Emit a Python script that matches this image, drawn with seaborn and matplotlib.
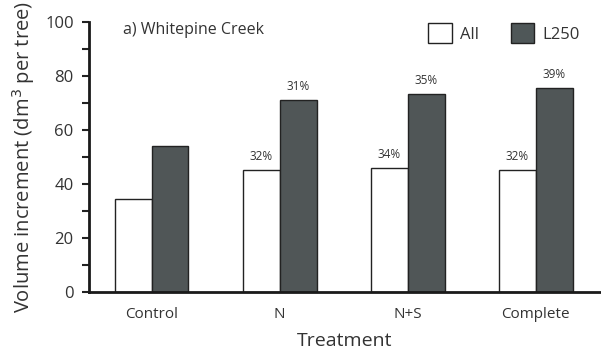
import matplotlib
matplotlib.use("Agg")
import matplotlib.pyplot as plt
import seaborn as sns
import pandas as pd
from matplotlib.patches import Patch

treatments = ["Control", "N", "N+S", "Complete"]
all_trees = [34.5, 45.2, 45.9, 45.2]
l250_trees = [54.0, 71.1, 73.3, 75.6]
all_pct = ["", "32%", "34%", "32%"]
l250_pct = ["", "31%", "35%", "39%"]
groups = ["All", "L250"]

df = pd.DataFrame({
    "Treatment": treatments * 2,
    "Volume": all_trees + l250_trees,
    "Group": [groups[0]] * 4 + [groups[1]] * 4,
})

sns.set_style("ticks")
plt.rcParams["font.family"] = ["Open Sans", "DejaVu Sans"]

colors = {"All": "white", "L250": "#4f5758"}

fig = plt.figure(figsize=(6.01, 3.59), dpi=100)
ax = fig.add_axes([0.148, 0.187, 0.850, 0.752])

sns.barplot(data=df, x="Treatment", y="Volume", hue="Group",
            palette=colors, edgecolor="#222222", linewidth=1.0,
            width=0.575, gap=0, legend=False, ax=ax)

for cont, labs in zip(ax.containers, [all_pct, l250_pct]):
    ax.bar_label(cont, labels=labs, padding=5, fontsize=8.5, color="#333333")

ax.set_ylim(0, 100)
ax.set_xlim(-0.49, 3.5)
ax.set_yticks(range(0, 101, 20))
ax.set_yticks(range(10, 100, 20), minor=True)
ax.tick_params(axis="y", which="both", length=5, width=1.5, direction="out",
               labelsize=12, colors="#222222", pad=6)
ax.tick_params(axis="x", length=0, labelsize=11, pad=11, colors="#222222")
ax.tick_params(axis="y", labelcolor="#333333")
ax.tick_params(axis="x", labelcolor="#333333")

sns.despine(ax=ax)
for s in ["left", "bottom"]:
    ax.spines[s].set_linewidth(2)
    ax.spines[s].set_color("#1a1a1a")

ax.set_xlabel("Treatment", fontsize=14, color="#333333", labelpad=7)
ax.set_ylabel("Volume increment (dm$^3$ per tree)", fontsize=14.5,
              color="#333333", labelpad=6)

ax.text(0.066, 1.0, "a) Whitepine Creek", transform=ax.transAxes,
        fontsize=11.5, color="#333333", va="top", ha="left")

handles = [Patch(facecolor=colors[g], edgecolor="#222222", linewidth=1.0, label=g)
           for g in groups]
ax.legend(handles=handles, ncol=2, frameon=False, loc="upper right",
          bbox_to_anchor=(0.99, 1.05), fontsize=12, handlelength=1.4,
          handleheight=1.4, handletextpad=0.5, columnspacing=1.9,
          labelcolor="#333333")

fig.savefig("out.png", dpi=100)
